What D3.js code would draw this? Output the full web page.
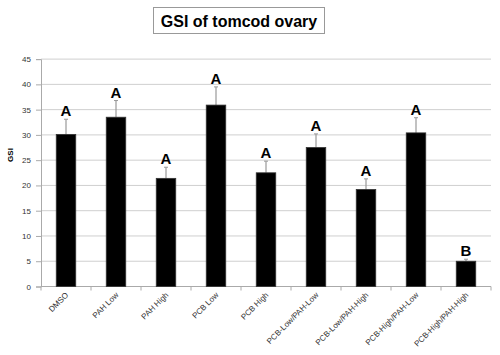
<!DOCTYPE html>
<html>
<head>
<meta charset="utf-8">
<script src="https://cdn.jsdelivr.net/npm/d3@7"></script>
<style>
  body { margin: 0; background: #fff; }
  text { font-family: Arial, "Liberation Sans", sans-serif; }
</style>
</head>
<body>
<div id="root"></div>
<script>
// chart data
var categories = ["DMSO", "PAH Low", "PAH High", "PCB Low", "PCB High",
    "PCB-Low/PAH-Low", "PCB-Low/PAH-High", "PCB-High/PAH-Low", "PCB-High/PAH-High"];
var gsiMean = [30.1, 33.5, 21.4, 35.9, 22.5, 27.5, 19.2, 30.4, 5.0];
var gsiErr = [3.0, 3.3, 2.2, 3.6, 2.3, 2.7, 2.1, 3.0, 0.4];
var groupLetters = ["A", "A", "A", "A", "A", "A", "A", "A", "B"];
var yTicks = [0, 5, 10, 15, 20, 25, 30, 35, 40, 45];

var width = 500, height = 355;
var plotLeft = 41, plotRight = 491, plotTop = 59.1, plotBottom = 286.5;

var svg = d3.select("#root")
    .append("svg")
    .attr("width", width)
    .attr("height", height);

var x = d3.scaleBand()
    .domain(categories)
    .range([plotLeft, plotRight])
    .paddingInner(0.61)
    .paddingOuter(0.305);

var y = d3.scaleLinear()
    .domain([0, 45])
    .range([plotBottom, plotTop]);

// gridlines
svg.append("g")
    .selectAll("line")
    .data(yTicks.slice(1))
    .enter()
    .append("line")
    .attr("x1", plotLeft)
    .attr("x2", plotRight)
    .attr("y1", function (d) { return y(d); })
    .attr("y2", function (d) { return y(d); })
    .attr("stroke", "#cfcfcf")
    .attr("stroke-width", 1);

// y axis
var yAxis = svg.append("g")
    .attr("transform", "translate(" + plotLeft + ",0)")
    .call(d3.axisLeft(y).tickValues(yTicks).tickSize(5).tickPadding(5));
yAxis.select(".domain").attr("stroke", "#aaa");
yAxis.selectAll(".tick line").attr("stroke", "#aaa");
yAxis.selectAll("text").attr("font-size", 8).attr("fill", "#333");

// x axis with ticks between categories
var xEdge = d3.scaleLinear().domain([0, categories.length]).range([plotLeft, plotRight]);
svg.append("line")
    .attr("x1", plotLeft).attr("x2", plotRight)
    .attr("y1", plotBottom).attr("y2", plotBottom)
    .attr("stroke", "#aaa");
svg.append("g")
    .selectAll("line")
    .data(d3.range(categories.length + 1))
    .enter()
    .append("line")
    .attr("x1", function (d) { return xEdge(d); })
    .attr("x2", function (d) { return xEdge(d); })
    .attr("y1", plotBottom)
    .attr("y2", plotBottom + 4)
    .attr("stroke", "#aaa");

svg.append("g")
    .selectAll("text")
    .data(categories)
    .enter()
    .append("text")
    .attr("transform", function (d) {
        return "translate(" + (x(d) + x.bandwidth() / 2 + 3) + "," + (plotBottom + 9) + ") rotate(-45)";
    })
    .attr("text-anchor", "end")
    .attr("font-size", 8)
    .attr("fill", "#333")
    .text(function (d) { return d; });

// error bars
var errs = svg.append("g");
categories.forEach(function (c, i) {
    var cx = x(c) + x.bandwidth() / 2;
    errs.append("line")
        .attr("x1", cx).attr("x2", cx)
        .attr("y1", y(gsiMean[i])).attr("y2", y(gsiMean[i] + gsiErr[i]))
        .attr("stroke", "#999").attr("stroke-width", 1.2);
    errs.append("line")
        .attr("x1", cx - 2).attr("x2", cx + 2)
        .attr("y1", y(gsiMean[i] + gsiErr[i])).attr("y2", y(gsiMean[i] + gsiErr[i]))
        .attr("stroke", "#999").attr("stroke-width", 1);
});

// bars
svg.append("g")
    .selectAll("rect")
    .data(gsiMean)
    .enter()
    .append("rect")
    .attr("x", function (d, i) { return x(categories[i]); })
    .attr("y", function (d) { return y(d); })
    .attr("width", x.bandwidth())
    .attr("height", function (d) { return plotBottom - y(d); })
    .attr("fill", "#000")
    .attr("stroke", "#333")
    .attr("stroke-width", 0.8);

// significance letters
svg.append("g")
    .selectAll("text")
    .data(groupLetters)
    .enter()
    .append("text")
    .attr("x", function (d, i) { return x(categories[i]) + x.bandwidth() / 2; })
    .attr("y", function (d, i) { return y(gsiMean[i] + gsiErr[i]) - 3; })
    .attr("text-anchor", "middle")
    .attr("font-size", 15)
    .attr("font-weight", "bold")
    .text(function (d) { return d; });

// y label
svg.append("text")
    .attr("transform", "translate(13,155) rotate(-90)")
    .attr("text-anchor", "middle")
    .attr("font-size", 8)
    .attr("font-weight", "bold")
    .text("GSI");

// title box
svg.append("rect")
    .attr("x", 153.5).attr("y", 7.5)
    .attr("width", 171).attr("height", 26)
    .attr("fill", "#fff")
    .attr("stroke", "#999");
svg.append("text")
    .attr("x", 239).attr("y", 26.5)
    .attr("text-anchor", "middle")
    .attr("font-size", 16)
    .attr("font-weight", "bold")
    .text("GSI of tomcod ovary");
</script>
</body>
</html>
